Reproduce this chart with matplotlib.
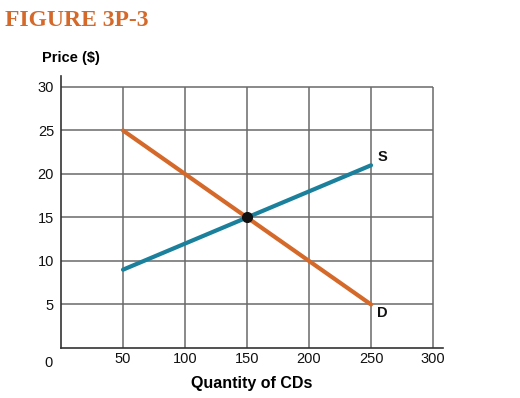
import matplotlib
matplotlib.use("Agg")
import matplotlib.pyplot as plt

plt.rcParams['font.family'] = ['Liberation Sans', 'DejaVu Sans']

# supply and demand curves
supply_q = [50, 250]
supply_p = [9, 21]
demand_q = [50, 250]
demand_p = [25, 5]
eq_q = 150
eq_p = 15

xticks = [50, 100, 150, 200, 250, 300]
yticks = [5, 10, 15, 20, 25, 30]

orange = "#D4692A"
teal = "#1B809B"
gridc = "#6a6a6a"

fig = plt.figure(figsize=(5.2, 3.98), dpi=100)
ax = fig.add_axes([61/520, 50/398, 382/520, 272/398])
ax.set_xlim(0, 308)
ax.set_ylim(0, 31.26)

# grid only inside 0..300 x 0..30
ax.vlines(xticks, 0, 30, color=gridc, lw=1.1, zorder=1)
ax.hlines(yticks, 0, 300, color=gridc, lw=1.1, zorder=1)

ax.plot(supply_q, supply_p, color=teal, lw=3, solid_capstyle='round', zorder=3)
ax.plot(demand_q, demand_p, color=orange, lw=3, solid_capstyle='round', zorder=3)
ax.plot([eq_q], [eq_p], 'o', color="#111111", ms=7, zorder=4)

ax.text(supply_q[1] + 5, supply_p[1] + 1.0, "S", fontsize=10.5, fontweight='bold',
        color="#111111", va='center')
ax.text(demand_q[1] + 5, demand_p[1] - 1.0, "D", fontsize=10.5, fontweight='bold',
        color="#111111", va='center')

for s in ['top', 'right']:
    ax.spines[s].set_visible(False)
for s in ['left', 'bottom']:
    ax.spines[s].set_color("#333333")
    ax.spines[s].set_linewidth(1.2)

ax.set_xticks(xticks)
ax.set_yticks(yticks)
ax.tick_params(length=0, labelsize=10.5, colors="#111111")
ax.tick_params(axis='y', pad=5)
ax.tick_params(axis='x', pad=3)
ax.text(-7, -0.95, "0", ha='right', va='top', fontsize=10.5, color="#111111")

ax.set_xlabel("Quantity of CDs", fontsize=11.5, fontweight='bold', labelpad=7)
fig.text(42/520, 1 - 58/398, "Price ($)", fontsize=10.5, fontweight='bold', va='center')
fig.text(5/520, 1 - 20/398, "FIGURE 3P-3", fontsize=17, fontweight='bold',
         color=orange, family='Liberation Serif', va='center')

fig.savefig("out.png", dpi=100)
